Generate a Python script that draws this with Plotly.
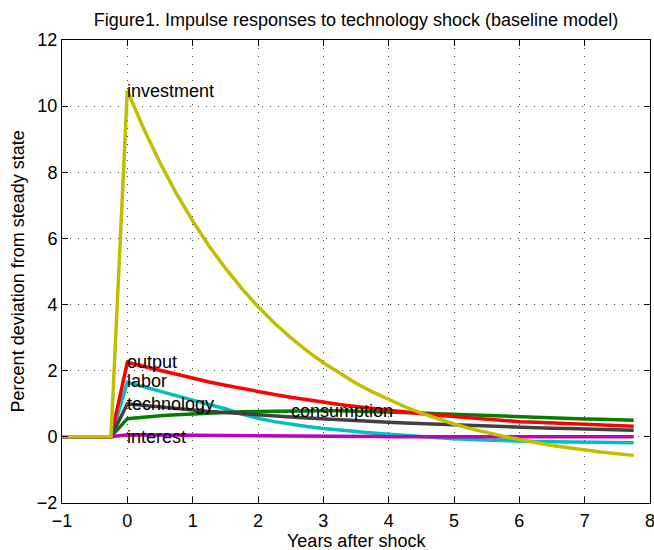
import plotly.graph_objects as go

years = [-1.0, -0.75, -0.5, -0.25] + [q / 4 for q in range(32)]

pre = [0, 0, 0, 0]
investment = pre + [10.47, 9.32, 8.29, 7.36, 6.53, 5.77, 5.10, 4.49, 3.94, 3.44, 3.00, 2.60,
                    2.24, 1.92, 1.62, 1.36, 1.13, 0.91, 0.72, 0.55, 0.39, 0.25, 0.13, 0.02,
                    -0.08, -0.18, -0.26, -0.33, -0.40, -0.46, -0.51, -0.56]
output = pre + [2.25, 2.13, 2.01, 1.89, 1.77, 1.66, 1.56, 1.46, 1.36, 1.28, 1.20, 1.12,
                1.05, 0.98, 0.92, 0.86, 0.80, 0.75, 0.70, 0.65, 0.61, 0.57, 0.53, 0.49,
                0.46, 0.44, 0.42, 0.40, 0.38, 0.36, 0.34, 0.32]
labor = pre + [1.65, 1.51, 1.37, 1.24, 1.11, 0.98, 0.85, 0.69, 0.56, 0.46, 0.38, 0.31,
               0.25, 0.20, 0.16, 0.12, 0.08, 0.04, 0.00, -0.03, -0.06, -0.08, -0.10, -0.12,
               -0.13, -0.14, -0.15, -0.16, -0.16, -0.17, -0.17, -0.18]
technology = pre + [1.00, 0.95, 0.90, 0.86, 0.81, 0.77, 0.74, 0.70, 0.66, 0.63, 0.60, 0.57,
                    0.54, 0.51, 0.49, 0.46, 0.44, 0.42, 0.40, 0.38, 0.36, 0.34, 0.32, 0.31,
                    0.29, 0.28, 0.26, 0.25, 0.24, 0.23, 0.21, 0.20]
consumption = pre + [0.55, 0.60, 0.64, 0.67, 0.70, 0.72, 0.74, 0.76, 0.77, 0.78, 0.79, 0.79,
                     0.79, 0.79, 0.78, 0.77, 0.75, 0.74, 0.72, 0.70, 0.68, 0.66, 0.64, 0.62,
                     0.60, 0.58, 0.57, 0.56, 0.54, 0.53, 0.52, 0.50]
interest = pre + [0.06, 0.055, 0.05, 0.045, 0.04, 0.037, 0.034, 0.03, 0.027, 0.024, 0.021, 0.018,
                  0.015, 0.012, 0.01, 0.008, 0.006, 0.004, 0.002, 0.0, 0.0, 0.0, 0.0, 0.0,
                  0.0, 0.0, 0.0, 0.0, 0.0, 0.0, 0.0, 0.0]

series = [
    ("labor", labor, "#00bfbf"),
    ("consumption", consumption, "#008000"),
    ("output", output, "#ff0000"),
    ("technology", technology, "#404040"),
    ("interest", interest, "#bf00bf"),
    ("investment", investment, "#bfbf00"),
]

labels = [
    ("investment", 0.0, 10.45),
    ("output", 0.0, 2.25),
    ("labor", 0.0, 1.7),
    ("technology", 0.0, 1.0),
    ("interest", 0.0, 0.0),
    ("consumption", 2.5, 0.78),
]

x_ticks = [-1, 0, 1, 2, 3, 4, 5, 6, 7, 8]
y_ticks = [-2, 0, 2, 4, 6, 8, 10, 12]

FONT = "Liberation Sans, Arial, Helvetica, sans-serif"
FS = 18

fig = go.Figure()
for name, vals, col in series:
    fig.add_trace(go.Scatter(x=years, y=vals, mode="lines", name=name,
                             line=dict(color=col, width=3.5), showlegend=False))

for txt, lx, ly in labels:
    fig.add_annotation(x=lx, y=ly, text=txt, showarrow=False, xanchor="left",
                       yanchor="middle", xshift=-2,
                       font=dict(family=FONT, size=FS, color="black"))

# axis titles as paper annotations
fig.add_annotation(x=0.5, y=-0.081, xref="paper", yref="paper", text="Years after shock",
                   showarrow=False, xanchor="center", yanchor="middle", borderpad=0,
                   font=dict(family=FONT, size=FS, color="black"))
fig.add_annotation(x=-0.075, y=0.5, xref="paper", yref="paper",
                   text="Percent deviation from steady state", textangle=-90,
                   showarrow=False, xanchor="center", yanchor="middle",
                   font=dict(family=FONT, size=FS, color="black"))

axis_common = dict(showline=True, linecolor="black", linewidth=1, mirror="ticks",
                   ticks="inside", ticklen=6, tickcolor="black", showgrid=True,
                   gridcolor="#444444", gridwidth=1, griddash="1px,7px", zeroline=False,
                   automargin=False, ticklabeloverflow="allow",
                   tickfont=dict(family=FONT, size=FS, color="black"))

def fmt(v):
    return ("\u2212" + str(-v)) if v < 0 else str(v)

fig.update_xaxes(range=[-1, 8], tickvals=x_ticks, ticktext=[fmt(v) for v in x_ticks],
                 ticklabelstandoff=1, **axis_common)
fig.update_yaxes(range=[-2, 12], tickvals=y_ticks, ticktext=[fmt(v) for v in y_ticks], **axis_common)

fig.update_layout(
    width=654, height=550,
    margin=dict(l=62, r=4, t=40, b=47, autoexpand=False),
    paper_bgcolor="white", plot_bgcolor="white",
    title=dict(text="Figure1. Impulse responses to technology shock (baseline model)",
               x=(62 + 650) / 2 / 654, xref="container", xanchor="center",
               y=1 - 20 / 550, yref="container", yanchor="middle",
               font=dict(family=FONT, size=FS, color="black")),
    font=dict(family=FONT, size=FS, color="black"),
)

fig.write_html("out.html", config={"displayModeBar": False},
               post_script="document.body.style.margin='0';document.body.style.padding='0';")
